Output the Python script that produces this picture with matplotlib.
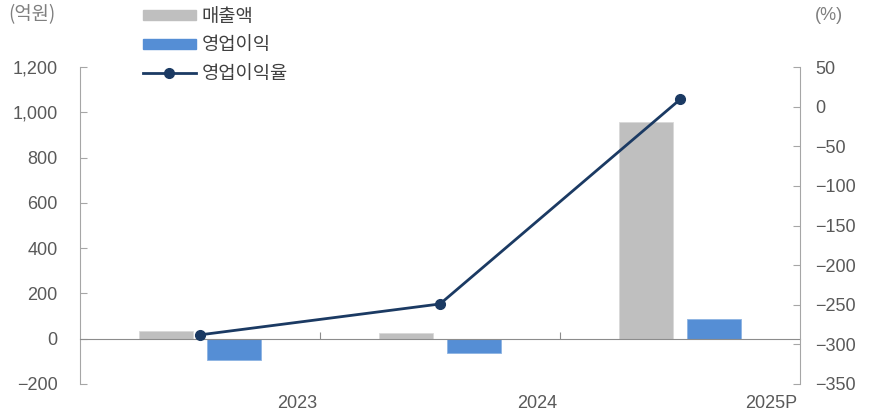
import matplotlib.pyplot as plt
from matplotlib.ticker import FuncFormatter, FixedLocator
from matplotlib.lines import Line2D
from matplotlib.patches import Patch
import numpy as np

plt.rcParams['font.family'] = ['Liberation Sans', 'Noto Sans CJK KR', 'DejaVu Sans']
kr = ['Noto Sans CJK KR', 'Liberation Sans']

years = ["2023", "2024", "2025P"]
sales = [34, 26, 958]           # 매출액 (억원)
op_profit = [-95, -63, 89]      # 영업이익 (억원)
op_margin = [-288, -249, 9]     # 영업이익율 (%)

gray = "#BFBFBF"
blue = "#558ED5"
navy = "#1B3A63"
txt = "#595959"
axc = "#A6A6A6"

fig = plt.figure(figsize=(8.74, 4.17), dpi=100)
ax = fig.add_axes([80/874, 1-384/417, 720/874, 317/417])
ax2 = ax.twinx()

x = np.arange(len(years))
w = 0.225
off = 0.143
ax.bar(x - off, sales, w, color=gray, edgecolor="#D9D9D9", linewidth=0.6, zorder=2)
ax.bar(x + off, op_profit, w, color=blue, edgecolor="#8DB3E2", linewidth=0.6, zorder=2)
ax2.plot(x, op_margin, color=navy, lw=2, marker="o", ms=7, zorder=3)

ax.set_xlim(-0.5, 2.5)
ax.set_ylim(-200, 1200)
ax2.set_ylim(-350, 50)
ax.set_yticks(range(-200, 1201, 200))
ax2.set_yticks(range(-350, 51, 50))
ax.yaxis.set_major_formatter(FuncFormatter(lambda v, p: f"{int(v):,}".replace("-", "\u2212")))

for a in (ax, ax2):
    for s in a.spines.values():
        s.set_color(axc)
    a.spines["top"].set_visible(False)
ax.spines["right"].set_visible(False)
ax2.spines["left"].set_visible(False)
ax2.spines["bottom"].set_visible(False)
ax.spines["bottom"].set_position(("data", 0))
ax.spines["bottom"].set_color("#8C8C8C")

ax.tick_params(axis="y", direction="in", length=5, color=axc, labelsize=13, labelcolor=txt, pad=16)
ax2.tick_params(axis="y", direction="in", length=5, color=axc, labelsize=13, labelcolor=txt, pad=11)
ax.xaxis.set_major_locator(FixedLocator([0.5, 1.5]))
ax.tick_params(axis="x", direction="in", length=5, color="#8C8C8C", labelbottom=False)

for i, yr in enumerate(years):
    ax.text(i + 0.5 - 0.012, -0.035, yr, transform=ax.get_xaxis_transform(),
            ha="right", va="top", fontsize=13, color=txt)

fig.text(8/874, 1-15/417, "(억원)", ha="left", va="center", fontsize=13.5, color="#7F7F7F", family=kr)
fig.text(815/874, 1-15/417, "(%)", ha="left", va="center", fontsize=13, color="#7F7F7F")

handles = [Patch(color=gray), Patch(color=blue),
           Line2D([], [], color=navy, lw=2, marker="o", ms=7)]
labels = ["매출액", "영업이익", "영업이익율"]
fig.legend(handles, labels, loc="upper left", bbox_to_anchor=(139/874, 1-2/417),
           frameon=False, prop={"family": kr, "size": 13.5}, labelcolor="#404040",
           handlelength=2.85, handleheight=0.45, handletextpad=0.28,
           labelspacing=0.4, borderpad=0.2, borderaxespad=0)

fig.savefig("out.png", dpi=100)
